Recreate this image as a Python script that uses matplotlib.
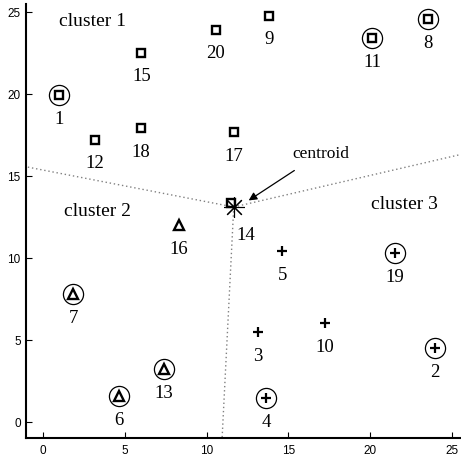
import matplotlib
matplotlib.use('Agg')
import matplotlib.pyplot as plt

# points: id, x, y, cluster, circled
ids = [1, 2, 3, 4, 5, 6, 7, 8, 9, 10, 11, 12, 13, 14, 15, 16, 17, 18, 19, 20]
xs = [1.0, 23.96, 13.15, 13.64, 14.63, 4.63, 1.86, 23.54, 13.82, 17.2,
      20.1, 3.2, 7.39, 11.52, 6.03, 8.3, 11.66, 6.0, 21.5, 10.56]
ys = [19.9, 4.48, 5.45, 1.43, 10.41, 1.57, 7.77, 24.54, 24.76, 6.02,
      23.4, 17.2, 3.21, 13.32, 22.5, 12.0, 17.65, 17.9, 10.27, 23.9]
cluster = [1, 3, 3, 3, 3, 2, 2, 1, 1, 3, 1, 1, 2, 1, 1, 2, 1, 1, 3, 1]
circled = [1, 2, 4, 6, 7, 8, 11, 13, 19]

centroid = (11.66, 13.1)
# ends of the dotted boundaries
bound_x = [-1.0, 25.5, 10.95]
bound_y = [15.55, 16.3, -1.0]

cluster_names = ['cluster 1', 'cluster 2', 'cluster 3']
cluster_txt_x = [3.05, 3.36, 22.08]
cluster_txt_y = [24.45, 12.87, 13.3]

markers = {1: 's', 2: '^', 3: '+'}

serif = ['Liberation Serif', 'DejaVu Serif']
plt.rcParams['font.family'] = ['Liberation Sans', 'DejaVu Sans']

fig, ax = plt.subplots(figsize=(4.61, 4.60), dpi=100)
fig.subplots_adjust(left=0.057, right=0.999, bottom=0.045, top=0.99)

for bx, by in zip(bound_x, bound_y):
    ax.plot([centroid[0], bx], [centroid[1], by], ls=(0, (1, 2)), color='0.5', lw=1.0, zorder=1)

for i, x, y, c in zip(ids, xs, ys, cluster):
    m = markers[c]
    if m == 's':
        ax.plot(x, y, marker='s', ms=5.5, mfc='none', mec='black', mew=1.7, ls='none', zorder=3)
    elif m == '^':
        ax.plot(x, y, marker='^', ms=6.5, mfc='none', mec='black', mew=1.7, ls='none', zorder=3)
    else:
        ax.plot(x, y, marker='+', ms=6.5, mec='black', mew=1.6, ls='none', zorder=3)
    if i in circled:
        ax.plot(x, y, marker='o', ms=14.5, mfc='none', mec='black', mew=0.9, ls='none', zorder=3)
    if i == 14:
        ax.text(x + 0.9, y - 1.9, str(i), ha='center', va='center', fontsize=13.5, family=serif)
    else:
        ax.text(x, y - 1.4, str(i), ha='center', va='center', fontsize=13.5, family=serif)

ax.plot(centroid[0], centroid[1], marker=(8, 2, 0), ms=15, mec='black', mew=0.8, ls='none', zorder=4)

for name, tx, ty in zip(cluster_names, cluster_txt_x, cluster_txt_y):
    ax.text(tx, ty, name, ha='center', va='center', fontsize=14, family=serif)

ax.annotate('centroid', xy=(12.57, 13.5), xytext=(17.0, 16.4), ha='center', va='center',
            fontsize=12.5, family=serif,
            arrowprops=dict(arrowstyle='-|>', color='black', lw=0.9, shrinkA=9, shrinkB=0,
                            mutation_scale=12))

ax.set_xlim(-1, 25.5)
ax.set_ylim(-1, 25.5)
ax.set_xticks([0, 5, 10, 15, 20, 25])
ax.set_yticks([0, 5, 10, 15, 20, 25])
ax.tick_params(direction='in', length=4, width=0.8, labelsize=8.5, pad=4)
ax.spines['top'].set_visible(False)
ax.spines['right'].set_visible(False)
ax.spines['left'].set_linewidth(1.5)
ax.spines['bottom'].set_linewidth(1.5)

fig.savefig('out.png', dpi=100)
